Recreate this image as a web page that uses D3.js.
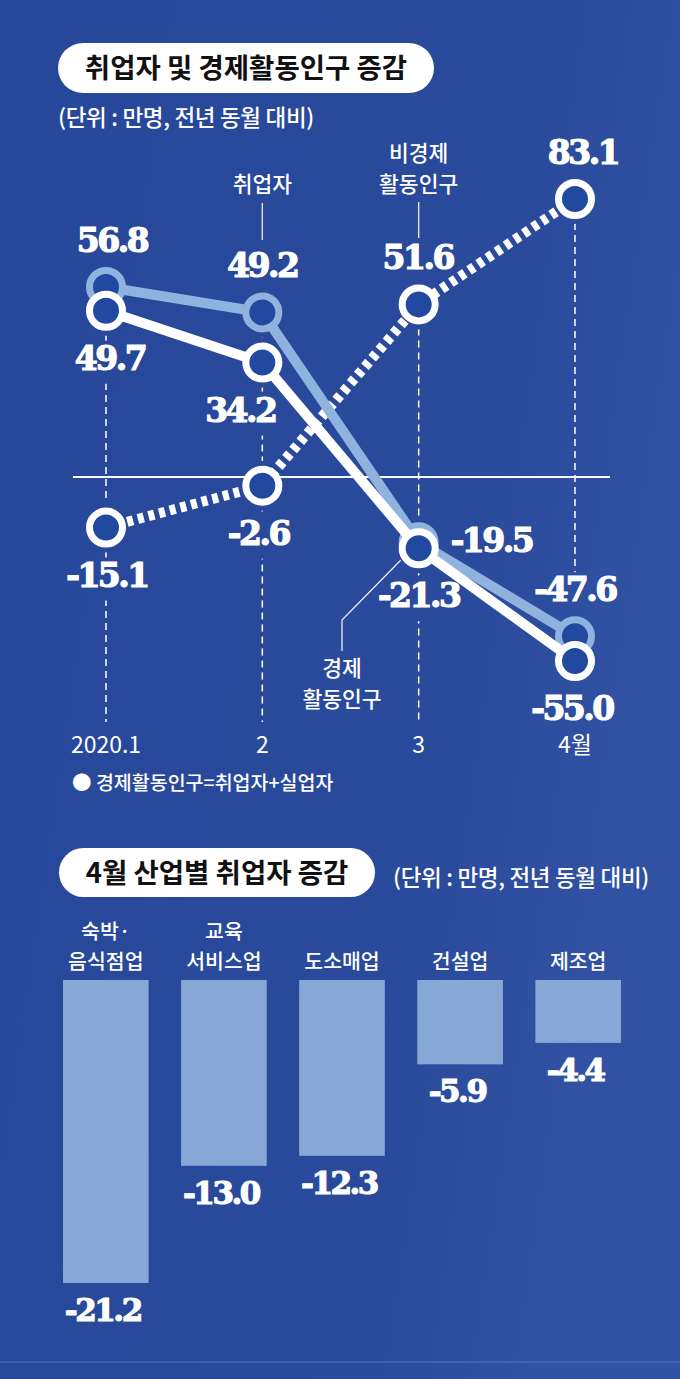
<!DOCTYPE html>
<html><head><meta charset="utf-8">
<script src="https://cdn.jsdelivr.net/npm/d3@7"></script>
<style>
html,body{margin:0;padding:0;background:#2a4a9b;}
svg{display:block;}
</style></head><body>
<svg id="c" width="680" height="1379"></svg>
<script>
// ---------- data ----------
const months = ['2020.1', '2', '3', '4월'];
const employed = [56.8, 49.2, -19.5, -47.6];          // 취업자
const econActive = [49.7, 34.2, -21.3, -55.0];        // 경제활동인구
const nonEconActive = [-15.1, -2.6, 51.6, 83.1];      // 비경제활동인구
const industries = [['숙박·', '음식점업'], ['교육', '서비스업'], ['도소매업'], ['건설업'], ['제조업']];
const industryValues = [-21.2, -13.0, -12.3, -5.9, -4.4];
const title1 = '취업자 및 경제활동인구 증감';
const title2 = '4월 산업별 취업자 증감';
const unitNote = '(단위 : 만명, 전년 동월 대비)';
const formulaNote = '● 경제활동인구=취업자+실업자';

// ---------- label placement (styling) ----------
const employedLabelPos = [{p:'above',dx:6},{p:'above',dx:0},{p:'right',dx:32},{p:'above',dx:0}];
const econLabelPos = [{p:'below',dx:4},{p:'below',dx:-22},{p:'below',dx:0},{p:'below',dx:-3}];
const nonEconLabelPos = [{p:'below',dx:1},{p:'below',dx:-4},{p:'above',dx:-1},{p:'above',dx:8}];

const svg = d3.select('#c');
const KR = "'Noto Sans CJK KR','Noto Sans',sans-serif";
const NUM = "'DejaVu Serif',serif";
const fmt = v => v.toFixed(1);

// background
const defs = svg.append('defs');
const bg = defs.append('linearGradient').attr('id','bg').attr('x1',0).attr('y1',0).attr('x2',1).attr('y2',0.3);
bg.append('stop').attr('offset','0%').attr('stop-color','#27479a');
bg.append('stop').attr('offset','75%').attr('stop-color','#2a4a9c');
bg.append('stop').attr('offset','100%').attr('stop-color','#3151a3');
svg.append('rect').attr('width',680).attr('height',1379).attr('fill','url(#bg)');

// ---------- title pills ----------
function pill(x, y, w, h, text, tx, ty) {
  svg.append('rect').attr('x',x).attr('y',y).attr('width',w).attr('height',h)
    .attr('rx',h/2).attr('fill','#fff');
  svg.append('text').attr('x',tx).attr('y',ty).attr('text-anchor','middle')
    .attr('font-family',KR).attr('font-weight',700).attr('font-size',27.5)
    .attr('fill','#111').text(text);
}
pill(58, 43, 376, 50, title1, 246, 78);
svg.append('text').attr('x',58).attr('y',126).attr('font-family',KR).attr('font-weight',500)
  .attr('font-size',22.5).attr('letter-spacing',-0.3).attr('fill','#fff').text(unitNote);

// ---------- line chart ----------
const x = d3.scalePoint().domain(months).range([106, 575]);
const y = d3.scaleLinear().domain([-55, 83.1]).range([661, 199]);
const bottomY = 722;

const guideG = svg.append('g').attr('mask','url(#gm)');
svg.append('line').attr('x1',73).attr('x2',610).attr('y1',y(0)).attr('y2',y(0))
  .attr('stroke','#fff').attr('stroke-width',2);

const series = [
  {vals: nonEconActive, color:'#fff', dash:'6,5', pos: nonEconLabelPos},
  {vals: employed, color:'#8fb2de', dash:null, pos: employedLabelPos},
  {vals: econActive, color:'#fff', dash:null, pos: econLabelPos}
];
const line = d3.line().x((d,i)=>x(months[i])).y(d=>y(d));
const labelNodes = [];
series.forEach(s => {
  const g = svg.append('g');
  g.append('path').attr('d', line(s.vals)).attr('fill','none').attr('stroke',s.color)
    .attr('stroke-width',10).attr('stroke-dasharray',s.dash).attr('stroke-linejoin','round');
  g.selectAll('circle').data(s.vals).join('circle')
    .attr('cx',(d,i)=>x(months[i])).attr('cy',d=>y(d)).attr('r',16.5)
    .attr('fill','#2149a0').attr('stroke',s.color).attr('stroke-width',7);
});
// value labels on top
series.forEach(s => {
  svg.append('g').selectAll('text').data(s.vals).join('text')
    .attr('x',(d,i)=>x(months[i]) + s.pos[i].dx)
    .attr('y',(d,i)=> s.pos[i].p==='above' ? y(d)-35 : s.pos[i].p==='below' ? y(d)+59 : y(d)+10)
    .attr('text-anchor',(d,i)=> s.pos[i].p==='right' ? 'start' : 'middle')
    .attr('font-family',NUM).attr('font-weight',700).attr('font-size',33)
    .attr('letter-spacing',-2.5).attr('fill','#fff').attr('stroke','#fff').attr('stroke-width',1.2)
    .text(fmt)
    .each(function(){ labelNodes.push(this); });
});

// x labels
svg.append('g').selectAll('text').data(months).join('text')
  .attr('x',d=>x(d)).attr('y',753).attr('text-anchor','middle')
  .attr('font-family',KR).attr('font-size',23).attr('fill','#fff').text(d=>d);

// guides
months.forEach((m,i) => {
  const top = d3.min(series, s => y(s.vals[i])) + 24;
  guideG.append('line').attr('x1',x(m)).attr('x2',x(m)).attr('y1',top).attr('y2',bottomY)
    .attr('stroke','#fff').attr('stroke-width',1.5).attr('stroke-dasharray','7,5');
});
// mask: knock out guides under labels and circles
const mask = defs.append('mask').attr('id','gm').attr('maskUnits','userSpaceOnUse')
  .attr('x',0).attr('y',0).attr('width',680).attr('height',1379);
mask.append('rect').attr('width',680).attr('height',1379).attr('fill','#fff');
labelNodes.forEach(n => {
  const b = n.getBBox();
  mask.append('rect').attr('x',b.x-6).attr('y',b.y+2).attr('width',b.width+12).attr('height',b.height+4).attr('fill','#000');
});
series.forEach(s => s.vals.forEach((v,i) => {
  mask.append('circle').attr('cx',x(months[i])).attr('cy',y(v)).attr('r',25).attr('fill','#000');
}));

// multi-line text helper (one text element, tspans)
function multiText(lines, cx, lastBaseline, lh, size, weight) {
  const t = svg.append('text').attr('text-anchor','middle').attr('font-family',KR)
    .attr('font-size',size).attr('font-weight',weight).attr('fill','#fff');
  lines.forEach((s,k) => {
    t.append('tspan').attr('x',cx).attr('y',lastBaseline - (lines.length-1-k)*lh).text(s);
  });
}
const leader = d3.line();
const leadStyle = p => p.attr('stroke','#e8eef8').attr('stroke-width',1.3).attr('fill','none');
multiText(['취업자'], x('2'), 192, 31, 21.5, 500);
leadStyle(svg.append('path').attr('d', leader([[x('2'),203],[x('2'),240]])));
multiText(['비경제','활동인구'], x('3'), 192, 31, 21.5, 500);
leadStyle(svg.append('path').attr('d', leader([[x('3'),202],[x('3'),238]])));
multiText(['경제','활동인구'], 342, 707, 31, 21.5, 500);
leadStyle(svg.append('path').attr('d', leader([[342,651],[342,620],[x('3')-18, y(econActive[2])+12]])));

svg.append('text').attr('x',72).attr('y',790).attr('font-family',KR).attr('font-size',19.5)
  .attr('font-weight',500).attr('fill','#fff').text(formulaNote);

// ---------- bar chart ----------
pill(59, 848, 316, 49, title2, 217, 883);
svg.append('text').attr('x',393).attr('y',886).attr('font-family',KR).attr('font-weight',500)
  .attr('font-size',22.5).attr('letter-spacing',-0.3).attr('fill','#fff').text(unitNote);

const bx = d3.scaleBand().domain(d3.range(industries.length)).range([63, 621]).paddingInner(0.275).paddingOuter(0);
const by = d3.scaleLinear().domain([0, -21.2]).range([980, 1283]);
const bars = svg.append('g');
bars.selectAll('rect').data(industryValues).join('rect')
  .attr('x',(d,i)=>bx(i)).attr('width',bx.bandwidth())
  .attr('y',by(0)).attr('height',d=>by(d)-by(0)).attr('fill','#87a8d6');
bars.selectAll('text.v').data(industryValues).join('text').attr('class','v')
  .attr('x',(d,i)=>bx(i)+bx.bandwidth()/2-3).attr('y',d=>by(d)+38)
  .attr('text-anchor','middle').attr('font-family',NUM).attr('font-weight',700)
  .attr('font-size',31).attr('letter-spacing',-2.5).attr('fill','#fff')
  .attr('stroke','#fff').attr('stroke-width',1.1).text(fmt);
industries.forEach((lines,i) => {
  multiText(lines, bx(i)+bx.bandwidth()/2, 969, 30, 20.5, 500);
});
// bottom edge line
svg.append('line').attr('x1',0).attr('x2',680).attr('y1',1362).attr('y2',1362)
  .attr('stroke','#5a75b8').attr('stroke-width',1);
</script>
</body></html>
